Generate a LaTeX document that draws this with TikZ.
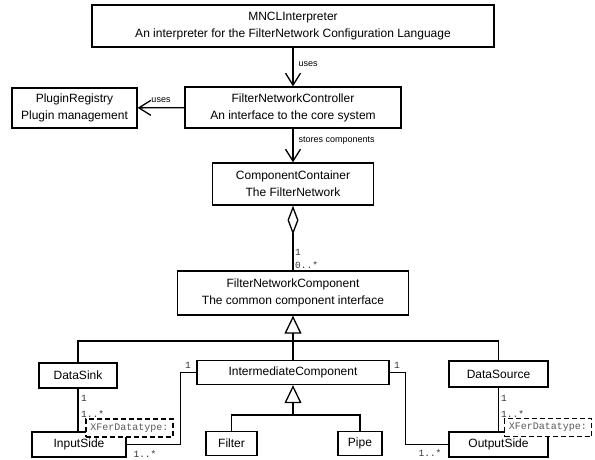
\documentclass[tikz,border=0pt]{standalone}
\usepackage{fontspec}
\setmainfont{Liberation Sans}
\setmonofont{Liberation Mono}
\usetikzlibrary{arrows.meta}

\tikzset{
  cls/.style={draw, line width=1.3pt, fill=white, align=center, inner sep=0pt,
    font=\fontsize{12}{17}\selectfont},
  conn/.style={line width=1.3pt},
  uses/.style={conn, -{Straight Barb[length=12pt, width=15pt, line width=1.3pt]}},
  isa/.style={conn, -{Triangle[open, length=18pt, width=17pt, line width=1.3pt]}},
  aggr/.style={conn, {Diamond[open, length=29pt, width=11pt, line width=1.3pt]}-},
  lbl/.style={inner sep=0pt, font=\fontsize{9}{10}\selectfont},
  mult/.style={inner sep=0pt, text=black!80, font=\ttfamily\fontsize{9.5}{10}\selectfont},
  tmpl/.style={draw, dashed, dash pattern=on 5pt off 3pt, line width=1.3pt, fill=white,
    text=black!65, inner sep=0pt, minimum width=87, minimum height=18,
    font=\ttfamily\fontsize{10}{10}\selectfont},
}

\begin{document}
\begin{tikzpicture}[x=1pt, y=-1pt]
  \useasboundingbox (0,0) rectangle (595,459);

  % Upper classes
  \node[cls, minimum width=402, minimum height=42] (mncl) at (293,26)
    {MNCLInterpreter\\An interpreter for the FilterNetwork Configuration Language};
  \node[cls, minimum width=216, minimum height=41] (ctrl) at (293,107.5)
    {FilterNetworkController\\An interface to the core system};
  \node[cls, minimum width=125, minimum height=40] (registry) at (74.5,108)
    {PluginRegistry\\Plugin management};
  \node[cls, minimum width=161, minimum height=42] (container) at (293,184)
    {ComponentContainer\\The FilterNetwork};
  \node[cls, minimum width=231, minimum height=44] (component) at (293,293)
    {FilterNetworkComponent\\The common component interface};

  % Component kinds
  \node[cls, minimum width=78, minimum height=25] (sink) at (78,375.5) {DataSink};
  \node[cls, minimum width=192, minimum height=24] (inter) at (293,372.5) {IntermediateComponent};
  \node[cls, minimum width=99, minimum height=26] (source) at (498.5,374) {DataSource};
  \node[cls, minimum width=51, minimum height=24] (filter) at (231.5,443.5) {Filter};
  \node[cls, minimum width=44, minimum height=24] (pipe) at (360,443.5) {Pipe};
  \node[cls, minimum width=94, minimum height=25] (inside) at (79,444.5) {InputSide};
  \node[cls, minimum width=99, minimum height=25] (outside) at (498.5,444.5) {OutputSide};

  % Associations
  \draw[uses] (mncl) -- (ctrl) node[lbl, pos=0.42, anchor=west, xshift=5pt] (usesa) {uses};
  \draw[uses] (ctrl) -- (registry) node[lbl, pos=0.5, anchor=south, yshift=5pt] (usesb) {uses};
  \draw[uses] (ctrl) -- (container) node[lbl, pos=0.35, anchor=west, xshift=5pt] (stores) {stores components};
  \draw[aggr] (container) -- (component);
  \node[mult, anchor=west] (m1) at (295,252) {1};
  \node[mult, anchor=west] (m2) at (295,265) {0..*};

  % Generalisation
  \coordinate (bus) at (293,341);
  \coordinate (subbus) at (293,415);
  \draw[conn] (sink.north) |- (bus) -| (source.north);
  \draw[conn] (inter) -- (bus);
  \draw[isa] (bus) -- (component);
  \draw[conn] (filter.north) |- (subbus) -| (pipe.north);
  \draw[isa] (subbus) -- (inter);

  % Sides
  \draw[conn] (sink) -- (sink |- inside.north);
  \draw[conn] (source) -- (source |- outside.north);
  \draw[conn] (inter.west) -- ++(-16,0) |- (inside.east);
  \draw[conn] (inter.east) -- ++(16,0) |- (outside.west);
  \node[mult, anchor=west] (m3) at (81,398) {1};
  \node[mult, anchor=west] (m4) at (81,414) {1..*};
  \node[mult, anchor=west] (m5) at (501,398) {1};
  \node[mult, anchor=west] (m6) at (501,414) {1..*};
  \node[mult] (m7) at (188,365) {1};
  \node[mult] (m8) at (145,454) {1..*};
  \node[mult] (m9) at (397,365) {1};
  \node[mult] (m10) at (430,453) {1..*};

  % Template parameters
  \node[tmpl] (tin) at (129.5,428) {XFerDatatype:};
  \node[tmpl] (tout) at (548,427.5) {XFerDatatype:};
\end{tikzpicture}
\end{document}
